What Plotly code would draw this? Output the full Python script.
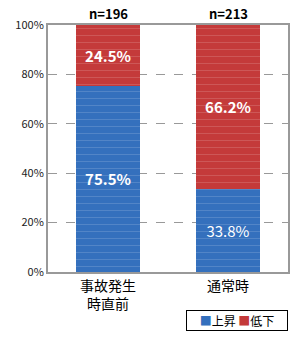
import plotly.graph_objects as go

categories = ["事故発生<br>時直前", "通常時"]
up_values = [75.5, 33.8]
down_values = [24.5, 66.2]
n_labels = ["n=196", "n=213"]
up_bold = [True, False]
down_bold = [True, True]
series_names = ["上昇", "低下"]
series_colors = ["#3470bd", "#c43a3a"]
tick_vals = [0, 20, 40, 60, 80, 100]
tick_text = ["0%", "20%", "40%", "60%", "80%", "100%"]

FONT = "Noto Sans CJK JP"

def fmt(vals, bolds):
    return [(f"<b>{v}%</b>" if b else f"{v}%") for v, b in zip(vals, bolds)]

fig = go.Figure()
for vals, bolds, name, col in [(up_values, up_bold, series_names[0], series_colors[0]),
                               (down_values, down_bold, series_names[1], series_colors[1])]:
    fig.add_trace(go.Bar(
        x=categories, y=vals, name=name,
        marker=dict(color=col, line=dict(width=0),
                    pattern=dict(shape="-", fgcolor="rgba(255,255,255,0.35)", size=7, solidity=0.12)),
        text=fmt(vals, bolds), textposition="inside", insidetextanchor="middle",
        textfont=dict(color="white", size=15, family=FONT), width=0.54,
    ))
for c, n in zip(categories, n_labels):
    fig.add_annotation(x=c, y=100, text=f"<b>{n}</b>", showarrow=False, yanchor="bottom",
                       font=dict(size=13, color="black", family=FONT))

legend_text = " ".join(f"<span style='color:{c}'>■</span>{n}" for n, c in zip(series_names, series_colors))
fig.add_annotation(xref="paper", yref="paper", x=1, xanchor="right", y=-0.155, yanchor="top",
                   text=legend_text, showarrow=False, bordercolor="black", borderwidth=1,
                   borderpad=1, bgcolor="white", font=dict(size=12, color="black", family=FONT),
                   width=98, align="center")

fig.update_layout(
    barmode="stack", width=300, height=340,
    margin=dict(l=48, r=10, t=25, b=68),
    paper_bgcolor="white", plot_bgcolor="white",
    font=dict(family=FONT, color="black"),
    showlegend=False,
    bargap=0.46,
)
fig.update_yaxes(range=[0, 100], tickvals=tick_vals, ticktext=tick_text,
                 showgrid=True, gridcolor="#999999", griddash="dash", gridwidth=1,
                 showline=True, linecolor="#999999", linewidth=2, mirror=True,
                 ticks="", tickfont=dict(size=11, color="#222", family=FONT), zeroline=False)
fig.update_xaxes(showline=True, linecolor="#999999", linewidth=2, mirror=True,
                 tickfont=dict(size=14, color="black", family=FONT), ticks="")
fig.write_html("out.html")
